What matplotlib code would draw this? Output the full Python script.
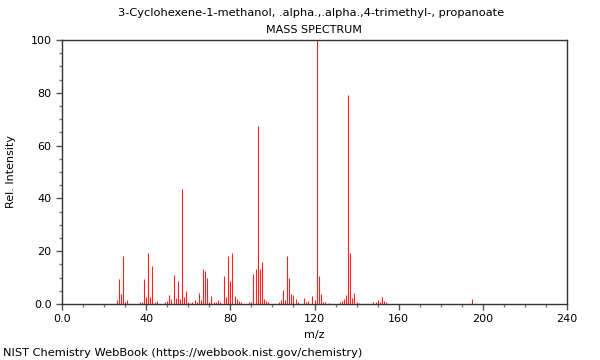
import matplotlib
matplotlib.use("Agg")
import matplotlib.pyplot as plt
from matplotlib.ticker import AutoMinorLocator, FixedLocator, FuncFormatter

title = "3-Cyclohexene-1-methanol, .alpha.,.alpha.,4-trimethyl-, propanoate"
subtitle = "MASS SPECTRUM"
footer = "NIST Chemistry WebBook (https://webbook.nist.gov/chemistry)"

mz = [26, 27, 28, 29, 30, 31, 37, 38, 39, 40, 41, 42, 43, 44, 45,
      49, 50, 51, 52, 53, 54, 55, 56, 57, 58, 59, 60, 61, 62, 63, 64,
      65, 66, 67, 68, 69, 70, 71, 72, 73, 74, 75, 77, 78, 79, 80, 81,
      82, 83, 84, 85, 89, 90, 91, 92, 93, 94, 95, 96, 97, 98, 103, 104,
      105, 106, 107, 108, 109, 110, 111, 112, 115, 116, 117, 119, 120, 121,
      122, 123, 124, 125, 127, 132, 133, 134, 135, 136, 137, 138, 139, 140,
      141, 148, 149, 150, 151, 152, 153, 154, 195]
intensity = [1.4, 9.5, 3.7, 18.2, 0.8, 1.4, 0.6, 0.9, 9.5, 2.5, 19.2, 2.5, 14.3, 0.9, 1.3,
             0.8, 1.1, 3.4, 1.8, 11.0, 2.3, 8.7, 1.8, 43.5, 2.8, 4.9, 0.9, 0.5, 0.8, 1.5, 0.8,
             4.3, 1.6, 13.3, 12.6, 10.0, 0.8, 3.0, 0.6, 0.9, 1.5, 0.9, 10.7, 2.7, 18.2, 8.7, 19.4,
             3.2, 1.8, 1.1, 0.8, 0.8, 0.8, 11.5, 13.3, 67.3, 13.4, 15.8, 1.9, 1.1, 0.8, 0.8, 1.5,
             5.3, 1.5, 18.2, 9.7, 3.8, 3.4, 1.8, 0.8, 2.3, 0.6, 1.1, 2.9, 1.5, 100.0,
             10.7, 3.8, 0.8, 0.8, 0.5, 0.8, 1.1, 2.0, 3.5, 79.0, 19.2, 2.3, 4.2, 0.8,
             0.5, 0.8, 0.8, 1.5, 0.9, 2.6, 1.3, 0.8, 1.9]

x_ticks = [0, 40, 80, 120, 160, 200, 240]
y_ticks = [0, 20, 40, 60, 80, 100]

fig = plt.figure(figsize=(6, 3.6), dpi=100)
ax = fig.add_axes([62/600, 1-304/360, (567-62)/600, (304-40)/360])

ax.vlines(mz, 0, intensity, colors="#ff2020", linewidth=0.8)

ax.set_xlim(0, 240)
ax.set_ylim(0, 100)
ax.xaxis.set_major_locator(FixedLocator(x_ticks))
ax.yaxis.set_major_locator(FixedLocator(y_ticks))
ax.xaxis.set_minor_locator(AutoMinorLocator(4))
ax.yaxis.set_minor_locator(AutoMinorLocator(4))
fmt = FuncFormatter(lambda v, p: "0.0" if v == 0 else "%d" % v)
ax.xaxis.set_major_formatter(fmt)
ax.yaxis.set_major_formatter(fmt)
ax.tick_params(axis="both", which="major", labelsize=8, length=4, color="#555555", width=1)
ax.tick_params(axis="both", which="minor", length=2.5, color="#777777", width=1)
for s in ax.spines.values():
    s.set_color("#333333")
    s.set_linewidth(1)

ax.set_xlabel("m/z", fontsize=8)
ax.set_ylabel("Rel. Intensity", fontsize=8)
ax.yaxis.set_label_coords((16 - 62) / 505, 0.5)

fig.text(311/600, 1-13/360, title, ha="center", va="center", fontsize=8.2)
fig.text(314/600, 1-30/360, subtitle, ha="center", va="center", fontsize=8)
fig.text(3/600, 1-353/360, footer, ha="left", va="center", fontsize=8.2)

fig.savefig("out.png", dpi=100)
